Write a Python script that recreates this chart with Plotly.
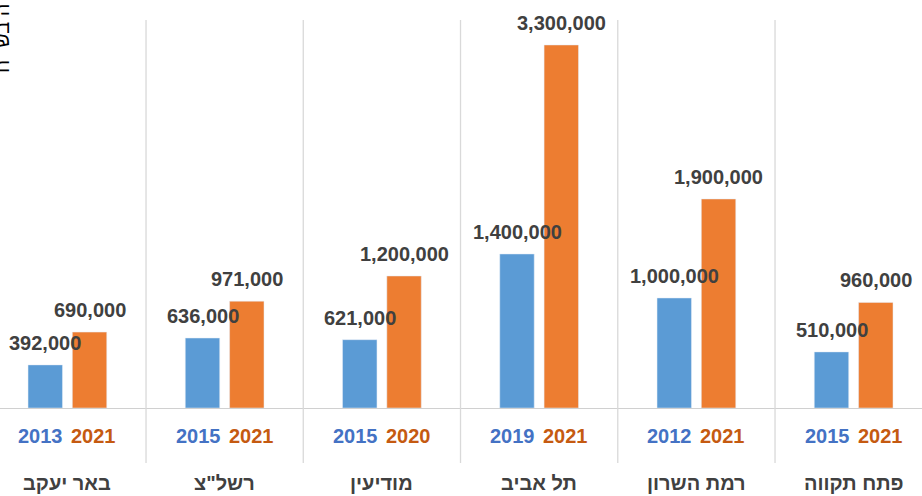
import plotly.graph_objects as go

cities = ["באר יעקב", "רשל\"צ", "מודיעין", "תל אביב", "רמת השרון", "פתח תקווה"]
years_early = ["2013", "2015", "2015", "2019", "2012", "2015"]
years_late = ["2021", "2021", "2020", "2021", "2021", "2021"]
values_early = [392000, 636000, 621000, 1400000, 1000000, 510000]
values_late = [690000, 971000, 1200000, 3300000, 1900000, 960000]
axis_title = "מחיר ממוצע לדירה בש״ח"

BLUE = "#5B9BD5"
ORANGE = "#ED7D31"
BLUE_TXT = "#4472C4"
ORANGE_TXT = "#C55A11"
GRAY_TXT = "#404040"
GRID = "#D9D9D9"

idx = list(range(len(cities)))
off = 0.1408
yoff = 0.168

fig = go.Figure()
fig.add_trace(go.Bar(x=idx, y=values_early, marker_color=BLUE, name="early"))
fig.add_trace(go.Bar(x=idx, y=values_late, marker_color=ORANGE, name="late"))

ann = []
for i in idx:
    ann.append(dict(x=i - off, y=values_early[i], xref="x", yref="y", text=f"{values_early[i]:,}",
                    showarrow=False, yanchor="middle", yshift=22,
                    font=dict(family="Liberation Sans", size=20, color=GRAY_TXT, weight="bold")))
    ann.append(dict(x=i + off, y=values_late[i], xref="x", yref="y", text=f"{values_late[i]:,}",
                    showarrow=False, yanchor="middle", yshift=22,
                    font=dict(family="Liberation Sans", size=20, color=GRAY_TXT, weight="bold")))
    ann.append(dict(x=i - yoff, y=-0.0709, xref="x", yref="paper", text=years_early[i],
                    showarrow=False, yanchor="middle",
                    font=dict(family="Liberation Sans", size=20, color=BLUE_TXT, weight="bold")))
    ann.append(dict(x=i + yoff, y=-0.0709, xref="x", yref="paper", text=years_late[i],
                    showarrow=False, yanchor="middle",
                    font=dict(family="Liberation Sans", size=20, color=ORANGE_TXT, weight="bold")))
    ann.append(dict(x=i, y=-0.193, xref="x", yref="paper", text=cities[i],
                    showarrow=False, yanchor="middle",
                    font=dict(family="Liberation Sans", size=20, color=GRAY_TXT, weight="bold")))

ann.append(dict(x=0, y=0.858, xref="paper", yref="paper", text=axis_title, textangle=-90,
                showarrow=False, xanchor="center", yanchor="bottom", xshift=2,
                font=dict(family="Liberation Sans", size=20, color="#000000")))

shapes = []
for i in idx[:-1]:
    shapes.append(dict(type="line", xref="x", yref="paper", x0=i + 0.5, x1=i + 0.5,
                       y0=-0.1418, y1=1, line=dict(color=GRID, width=1.3)))

fig.update_layout(
    width=922, height=496,
    margin=dict(l=0, r=0, t=20, b=88),
    paper_bgcolor="white", plot_bgcolor="white",
    barmode="group", bargap=0.4366, bargroupgap=0.2226,
    showlegend=False,
    annotations=ann, shapes=shapes,
    xaxis=dict(range=[-0.4286, 5.4347], showticklabels=False, showgrid=False, zeroline=False,
               showline=True, linecolor="#D0D0D0", linewidth=1.3, ticks=""),
    yaxis=dict(range=[0, 3527000], visible=False, showgrid=False, zeroline=False),
)

fig.write_html(
    "out.html",
    config={"displayModeBar": False},
    post_script="document.body.style.margin='0';document.body.style.overflow='hidden';",
)
